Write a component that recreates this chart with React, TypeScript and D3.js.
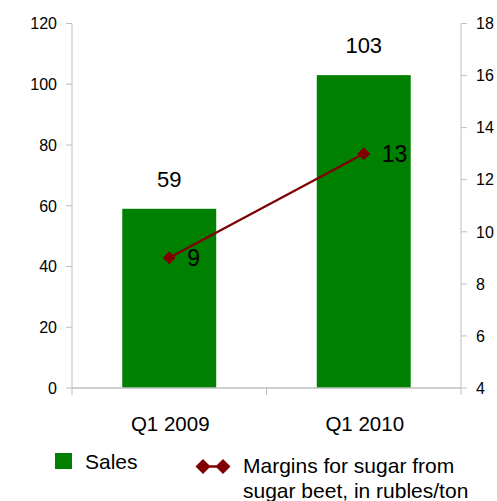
import React from "react";
import * as d3 from "d3";

const categories = ["Q1 2009", "Q1 2010"];
const sales = [59, 103];
const margins = [9, 13];
const leftTicks = [0, 20, 40, 60, 80, 100, 120];
const rightTicks = [4, 6, 8, 10, 12, 14, 16, 18];

const W = 497;
const H = 501;
const L = 72;
const R = 461;
const T = 23.5;
const B = 388;
const AXIS = "#bfbfbf";
const GREEN = "#008000";
const RED = "#800000";
const FONT = "'Liberation Sans', Arial, sans-serif";

export default function App() {
  const x = d3.scaleBand<string>().domain(categories).range([L, R]).padding(0);
  const bw = x.bandwidth();
  const barW = bw * 0.483;
  const yL = d3.scaleLinear().domain([0, 120]).range([B, T]);
  const yR = d3.scaleLinear().domain([4, 18]).range([B, T]);
  const cx = (c: string) => (x(c) as number) + bw / 2;

  const line = d3
    .line<number>()
    .x((_, i) => cx(categories[i]))
    .y((d) => yR(d));

  const diamond = (px: number, py: number, r: number) =>
    `M${px},${py - r}L${px + r},${py}L${px},${py + r}L${px - r},${py}Z`;

  const catTicks = [...categories.map((c) => x(c) as number), R];

  return (
    <svg
      width={W}
      height={H}
      style={{ position: "absolute", left: 0, top: 0, background: "#fff" }}
      fontFamily={FONT}
    >
      {/* bars */}
      {categories.map((c, i) => (
        <rect
          key={c}
          x={cx(c) - barW / 2}
          y={yL(sales[i])}
          width={barW}
          height={B - yL(sales[i])}
          fill={GREEN}
        />
      ))}
      {/* axes */}
      <line x1={L} x2={L} y1={T} y2={B} stroke={AXIS} strokeWidth={1} />
      <line x1={R} x2={R} y1={T} y2={B} stroke={AXIS} strokeWidth={1} />
      <line x1={L} x2={R} y1={B} y2={B} stroke={AXIS} strokeWidth={1.3} />
      {leftTicks.map((t) => (
        <g key={"l" + t}>
          <line x1={L - 6} x2={L} y1={yL(t)} y2={yL(t)} stroke={AXIS} />
          <text x={L - 15} y={yL(t)} dy="0.36em" textAnchor="end" fontSize={16} fill="#000">
            {t}
          </text>
        </g>
      ))}
      {rightTicks.map((t) => (
        <g key={"r" + t}>
          <line x1={R} x2={R + 6} y1={yR(t)} y2={yR(t)} stroke={AXIS} />
          <text x={R + 15} y={yR(t)} dy="0.36em" textAnchor="start" fontSize={16} fill="#000">
            {t}
          </text>
        </g>
      ))}
      {catTicks.map((t, i) => (
        <line key={"c" + i} x1={t} x2={t} y1={B} y2={B + 7} stroke={AXIS} />
      ))}
      {categories.map((c) => (
        <text key={"cl" + c} x={cx(c) + 1} y={431} textAnchor="middle" fontSize={20.5} fill="#000">
          {c}
        </text>
      ))}
      {/* bar labels */}
      {categories.map((c, i) => (
        <text key={"bl" + c} x={cx(c)} y={yL(sales[i]) - 22} textAnchor="middle" fontSize={22} fill="#000">
          {sales[i]}
        </text>
      ))}
      {/* line */}
      <path d={line(margins) || ""} fill="none" stroke={RED} strokeWidth={2.2} />
      {margins.map((m, i) => (
        <g key={"m" + i}>
          <path d={diamond(cx(categories[i]), yR(m), 6.5)} fill={RED} />
          <text x={cx(categories[i]) + 18} y={yR(m)} dy="0.36em" fontSize={23} fill="#000">
            {m}
          </text>
        </g>
      ))}
      {/* legend */}
      <rect x={55} y={453} width={17} height={16} fill={GREEN} />
      <text x={85} y={469} fontSize={21} fill="#000">
        Sales
      </text>
      <line x1={202} x2={224} y1={466.5} y2={466.5} stroke={RED} strokeWidth={2.5} />
      <path d={diamond(203, 466.5, 7.5)} fill={RED} />
      <path d={diamond(223, 466.5, 7.5)} fill={RED} />
      <text fontSize={21} fill="#000">
        <tspan x={243} y={473}>
          Margins for sugar from
        </tspan>
        <tspan x={243} y={498}>
          sugar beet, in rubles/ton
        </tspan>
      </text>
    </svg>
  );
}
